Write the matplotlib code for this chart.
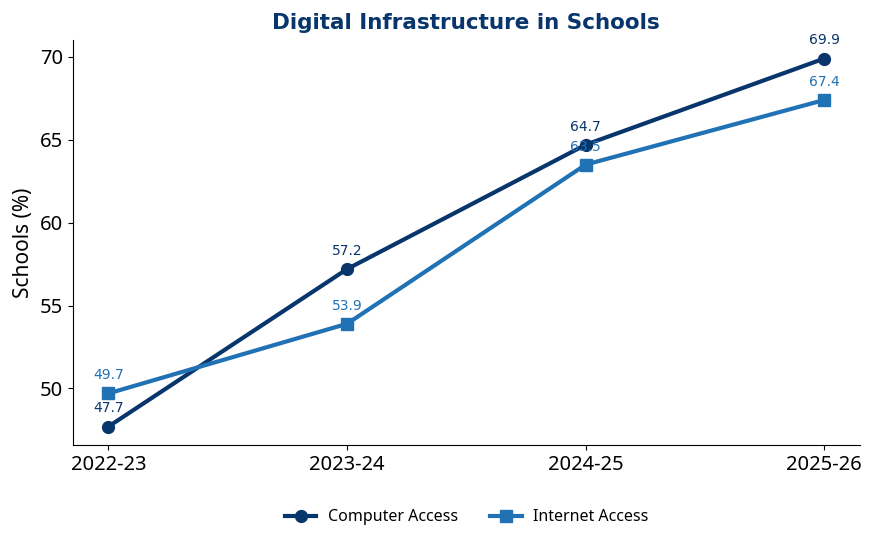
import matplotlib
matplotlib.use("Agg")
import matplotlib.pyplot as plt

years = ['2022-23', '2023-24', '2024-25', '2025-26']
computer_access = [47.7, 57.2, 64.7, 69.9]
internet_access = [49.7, 53.9, 63.5, 67.4]

dark_blue = '#08356b'
mid_blue = '#2171b5'

fig = plt.figure(figsize=(8.75, 5.42), dpi=100)
ax = fig.add_axes([0.083, 0.179, 0.9, 0.747])

x = range(len(years))
ax.plot(x, computer_access, color=dark_blue, lw=3, marker='o', ms=8.5, label='Computer Access')
ax.plot(x, internet_access, color=mid_blue, lw=3, marker='s', ms=8.5, label='Internet Access')

for i, v in enumerate(computer_access):
    ax.annotate(f'{v}', (i, v), xytext=(0, 8), textcoords='offset points',
                ha='center', va='bottom', fontsize=10, color=dark_blue, family='DejaVu Sans')
for i, v in enumerate(internet_access):
    ax.annotate(f'{v}', (i, v), xytext=(0, 8), textcoords='offset points',
                ha='center', va='bottom', fontsize=10, color=mid_blue, family='DejaVu Sans')

ax.set_xticks(list(x))
ax.set_xticklabels(years, fontsize=14.5, family='Noto Sans')
for lab in ax.get_yticklabels():
    lab.set_family('Noto Sans')
    lab.set_fontsize(14.5)
ax.set_xlim(-0.15, 3.15)
ax.set_ylabel('Schools (%)', fontsize=15, family='Noto Sans')
ax.set_title('Digital Infrastructure in Schools', fontsize=15.5, fontweight='bold',
             color=dark_blue, family='DejaVu Sans', pad=8)
ax.spines['top'].set_visible(False)
ax.spines['right'].set_visible(False)

# legend centred under the axes
ax.legend(loc='upper center', ncol=2, frameon=False, bbox_to_anchor=(0.5, -0.123),
          prop={'family': 'Noto Sans', 'size': 11.5}, handletextpad=0.7)

fig.savefig('out.png', dpi=100)
